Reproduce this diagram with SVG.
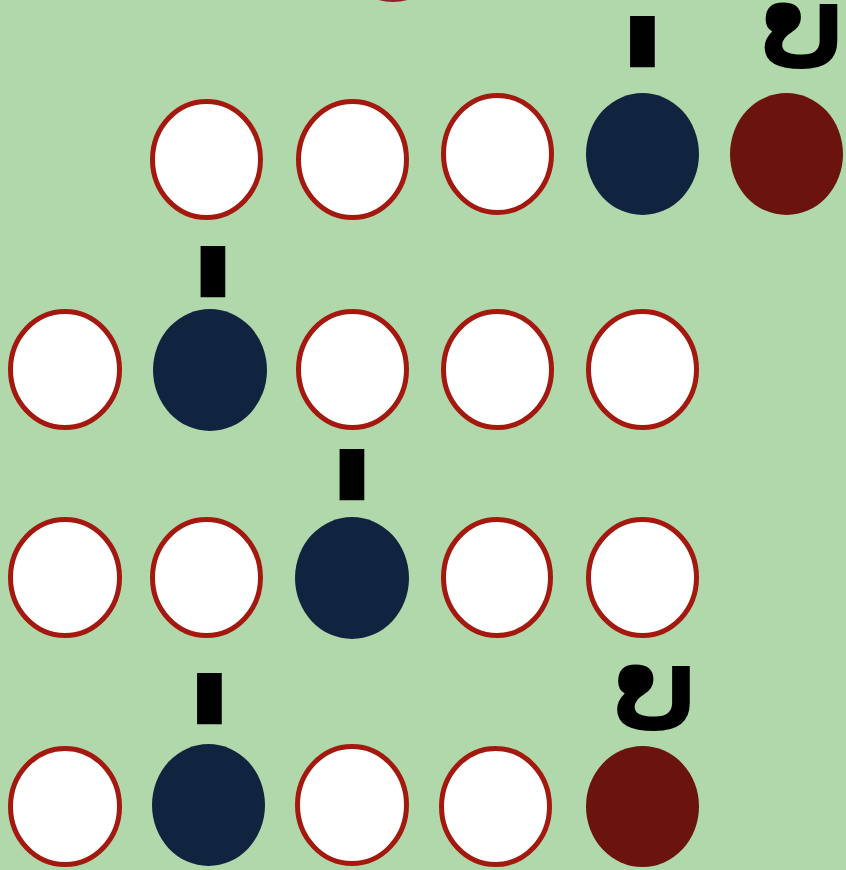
<svg xmlns="http://www.w3.org/2000/svg" width="846" height="870" viewBox="0 0 846 870">
<style>
.o{fill:#ffffff;stroke:#a4190f;stroke-width:5}
.b{fill:#11243f}
.r{fill:#6b140d}
.lao{font-family:"DejaVu Sans","Noto Sans Lao",sans-serif;font-weight:bold;font-size:116px;fill:#000;text-anchor:middle}
.bar{font-family:"DejaVu Sans",sans-serif;font-size:67px;fill:#000;text-anchor:middle}
</style>
<rect width="846" height="870" fill="#b1d8aa"/>
<ellipse cx="393" cy="-59" rx="57" ry="61" fill="#9b1b30"/>
<g id="row1">
<g id="n1a"><ellipse class="o" cx="206.5" cy="159.5" rx="54" ry="58"/></g>
<g id="n1b"><ellipse class="o" cx="352.5" cy="159.5" rx="54" ry="58"/></g>
<g id="n1c"><ellipse class="o" cx="497.5" cy="154" rx="54" ry="58.5"/></g>
<g id="n1d"><ellipse class="b" cx="642.5" cy="154" rx="56.5" ry="61"/><text class="bar" x="642.5" y="59">▮</text></g>
<g id="n1e"><ellipse class="r" cx="786.5" cy="154" rx="56.5" ry="61"/><text class="lao" x="802.5" y="67">ບ</text></g>
</g>
<g id="row2">
<g id="n2a"><ellipse class="o" cx="65" cy="369.5" rx="54.5" ry="58"/></g>
<g id="n2b"><ellipse class="b" cx="210" cy="370" rx="57" ry="61"/><text class="bar" x="213" y="289">▮</text></g>
<g id="n2c"><ellipse class="o" cx="352.5" cy="369.5" rx="54" ry="58"/></g>
<g id="n2d"><ellipse class="o" cx="497.5" cy="369.5" rx="54" ry="58"/></g>
<g id="n2e"><ellipse class="o" cx="642.5" cy="369.5" rx="54" ry="58"/></g>
</g>
<g id="row3">
<g id="n3a"><ellipse class="o" cx="65" cy="577.5" rx="54.5" ry="58"/></g>
<g id="n3b"><ellipse class="o" cx="206.5" cy="577.5" rx="54" ry="58"/></g>
<g id="n3c"><ellipse class="b" cx="352" cy="578" rx="57" ry="61"/><text class="bar" x="352" y="492">▮</text></g>
<g id="n3d"><ellipse class="o" cx="497" cy="577.5" rx="53.5" ry="58"/></g>
<g id="n3e"><ellipse class="o" cx="642.5" cy="577.5" rx="54" ry="58"/></g>
</g>
<g id="row4">
<g id="n4a"><ellipse class="o" cx="65" cy="806.5" rx="54.5" ry="58"/></g>
<g id="n4b"><ellipse class="b" cx="208.5" cy="805" rx="56.5" ry="61"/><text class="bar" x="209.5" y="716">▮</text></g>
<g id="n4c"><ellipse class="o" cx="352" cy="805" rx="54.5" ry="58.5"/></g>
<g id="n4d"><ellipse class="o" cx="495.5" cy="806.5" rx="54" ry="58"/></g>
<g id="n4e"><ellipse class="r" cx="642.5" cy="806.5" rx="56.5" ry="60.5"/><text class="lao" x="655" y="729">ບ</text></g>
</g>
</svg>
